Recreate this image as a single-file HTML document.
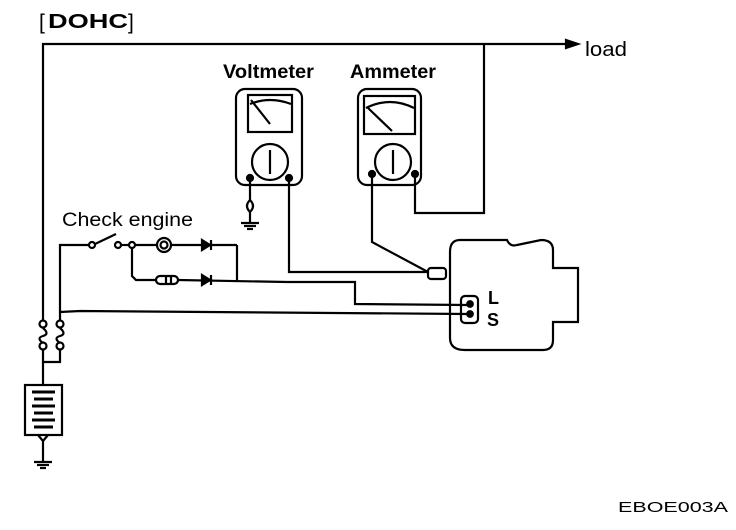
<!DOCTYPE html>
<html><head><style>html,body{margin:0;padding:0;background:#fff}svg{display:block}</style></head><body>
<svg width="736" height="530" viewBox="0 0 736 530" xmlns="http://www.w3.org/2000/svg" font-family="Liberation Sans, sans-serif">
<g fill="none" stroke="#000" stroke-width="2.2">
<polyline points="43,320 43,44 568,44"/>
<polygon points="566,40 578,44 566,48" fill="#000"/>
<polyline points="484,44 484,213 415,213 415,174"/>
<circle cx="43" cy="324" r="3.5" fill="#fff"/><circle cx="43" cy="346" r="3.5" fill="#fff"/>
<circle cx="60" cy="324" r="3.5" fill="#fff"/><circle cx="60" cy="346" r="3.5" fill="#fff"/>
<path d="M43,328 Q50,334 43,336 Q36,338 43,343"/>
<path d="M60,328 Q67,334 60,336 Q53,338 60,343"/>
<polyline points="43,350 43,385"/>
<polyline points="60,350 60,362 43,362"/>
<polyline points="60,320 60,245 90,245"/>
<polyline points="60,312 80,311 467,314"/>
<rect x="25" y="385" width="37" height="50"/>
<g stroke-width="3"><line x1="32" y1="392" x2="55" y2="392"/><line x1="34" y1="399" x2="53" y2="399"/><line x1="32" y1="406" x2="55" y2="406"/><line x1="34" y1="413" x2="53" y2="413"/><line x1="32" y1="420" x2="55" y2="420"/><line x1="34" y1="427" x2="53" y2="427"/></g>
<path d="M38,435 L43,441 L48,435"/>
<line x1="43" y1="441" x2="43" y2="462"/>
<line x1="34" y1="462" x2="52" y2="462"/><line x1="37" y1="465" x2="49" y2="465"/><line x1="40" y1="468" x2="46" y2="468"/>
<circle cx="92" cy="245" r="3" fill="#fff"/>
<line x1="95" y1="244" x2="116" y2="234"/>
<circle cx="118" cy="245" r="3" fill="#fff"/>
<circle cx="132" cy="245" r="3" fill="#fff"/>
<line x1="121" y1="245" x2="129" y2="245"/>
<line x1="135" y1="245" x2="157" y2="245"/>
<circle cx="164" cy="245" r="7"/><circle cx="164" cy="245" r="3.5"/>
<line x1="171" y1="245" x2="237" y2="245"/>
<polygon points="202,240 210,245 202,250" fill="#000"/><line x1="211" y1="240" x2="211" y2="250"/>
<polyline points="237,245 237,280"/>
<polyline points="132,248 132,276 136,280 156,280"/>
<rect x="156" y="276" width="22" height="8" rx="4"/>
<line x1="166" y1="276" x2="166" y2="284"/><line x1="171" y1="276" x2="171" y2="284"/>
<polyline points="178,280 287,282 355,282 355,304 467,305"/>
<polygon points="202,275 210,280 202,285" fill="#000"/><line x1="211" y1="275" x2="211" y2="285"/>
<rect x="236" y="89" width="66" height="96" rx="9"/>
<rect x="248" y="95" width="44" height="37"/>
<path d="M250,104 Q270,96 291,104"/>
<line x1="251" y1="100" x2="270" y2="124"/>
<circle cx="270" cy="162" r="18"/><line x1="270" y1="150" x2="270" y2="174"/>
<circle cx="250" cy="178" r="3" fill="#000"/><circle cx="289" cy="178" r="3" fill="#000"/>
<line x1="250" y1="178" x2="250" y2="200"/>
<path d="M250,200 Q244,206 250,212 Q256,206 250,200"/>
<line x1="250" y1="212" x2="250" y2="223"/>
<line x1="241" y1="223" x2="259" y2="223"/><line x1="244" y1="226" x2="256" y2="226"/><line x1="247" y1="229" x2="253" y2="229"/>
<polyline points="289,178 289,272 428,272"/>
<rect x="358" y="89" width="63" height="96" rx="9"/>
<rect x="364" y="96" width="51" height="38"/>
<path d="M366,108 Q390,96 414,108"/>
<line x1="368" y1="108" x2="392" y2="131"/>
<circle cx="393" cy="162" r="18"/><line x1="393" y1="150" x2="393" y2="174"/>
<circle cx="372" cy="174" r="3" fill="#000"/><circle cx="415" cy="174" r="3" fill="#000"/>
<polyline points="372,174 372,242 428,272"/>
<rect x="428" y="268" width="18" height="11" rx="3"/>
<path d="M460,240 L507,240 Q510,247 517,245 L541,240 Q553,240 553,250 L553,268 L578,268 L578,322 L553,322 L553,340 Q553,350 543,350 L465,350 Q450,350 450,338 L450,252 Q450,240 460,240 Z"/>
<rect x="461" y="296" width="17" height="27" rx="4"/>
<circle cx="470" cy="304" r="2.8" fill="#000"/><circle cx="470" cy="314" r="2.8" fill="#000"/>
</g>
<g fill="#000">
<text x="48" y="28" font-size="20" font-weight="bold" textLength="80" lengthAdjust="spacingAndGlyphs">DOHC</text>
<text x="39" y="29" font-size="21">[</text>
<text x="128" y="29" font-size="21">]</text>
<text x="223" y="78" font-size="19" font-weight="bold" textLength="91" lengthAdjust="spacingAndGlyphs">Voltmeter</text>
<text x="350" y="78" font-size="19" font-weight="bold" textLength="86" lengthAdjust="spacingAndGlyphs">Ammeter</text>
<text x="585" y="56" font-size="20" textLength="42" lengthAdjust="spacingAndGlyphs">load</text>
<text x="62" y="226" font-size="19" textLength="131" lengthAdjust="spacingAndGlyphs">Check engine</text>
<text x="488" y="304" font-size="18" font-weight="bold">L</text>
<text x="487" y="326" font-size="18" font-weight="bold">S</text>
<text x="618" y="512" font-size="15" textLength="110" lengthAdjust="spacingAndGlyphs">EBOE003A</text>
</g>
</svg>
</body></html>
